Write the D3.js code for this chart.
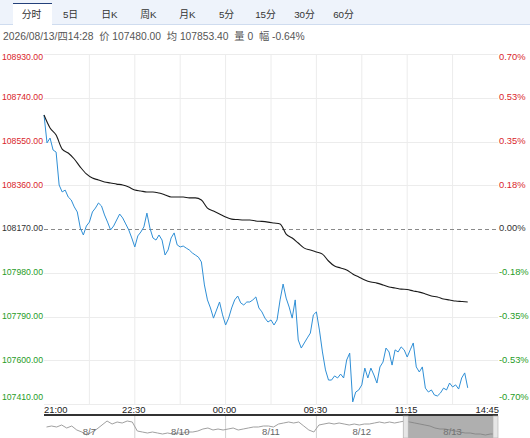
<!DOCTYPE html>
<html>
<head>
<meta charset="utf-8">
<script src="https://cdn.jsdelivr.net/npm/d3@7"></script>
<style>
  body { margin: 0; background: #fff; overflow: hidden; }
  svg { display: block; font-family: "Liberation Sans", Arial, "Noto Sans CJK SC", sans-serif; }
</style>
</head>
<body>
<div id="root"></div>
<script>
// toolbar + header
const tabs = ['分时', '5日', '日K', '周K', '月K', '5分', '15分', '30分', '60分']
const infoText = '2026/08/13/四14:28  价 107480.00  均 107853.40  量 0  幅 -0.64%'

// session axis (minutes from 21:00, breaks removed)
const timeTicks = [0, 90, 180, 270, 360, 450]
const timeLabels = ['21:00', '22:30', '00:00', '09:30', '11:15', '14:45']
const priceStep = 3   // minutes between price points
const avgStep = 6     // minutes between average points

const basePrice = 108170
const priceTicks = [108930, 108740, 108550, 108360, 108170, 107980, 107790, 107600, 107410]

const prices = [
  108665, 108544, 108565, 108513, 108504, 108361, 108331, 108339, 108309, 108296,
  108266, 108244, 108174, 108144, 108183, 108200, 108244, 108261, 108283, 108270,
  108231, 108200, 108166, 108183, 108209, 108235, 108218, 108192, 108166, 108131,
  108092, 108140, 108157, 108179, 108239, 108174, 108131, 108122, 108144, 108122,
  108057, 108079, 108131, 108153, 108101, 108092, 108096, 108087, 108079, 108066,
  108057, 108048, 108027, 107927, 107862, 107827, 107783, 107818, 107853, 107797,
  107753, 107783, 107827, 107862, 107879, 107849, 107840, 107853, 107853, 107862,
  107875, 107827, 107810, 107783, 107766, 107775, 107753, 107775, 107862, 107931,
  107870, 107831, 107783, 107862, 107688, 107653, 107675, 107697, 107718, 107797,
  107810, 107731, 107636, 107558, 107514, 107514, 107532, 107523, 107540, 107523,
  107601, 107631, 107419, 107462, 107471, 107493, 107566, 107523, 107566, 107536,
  107501, 107571, 107592, 107653, 107636, 107579, 107645, 107636, 107658, 107645,
  107614, 107645, 107675, 107571, 107549, 107571, 107479, 107462, 107471, 107449,
  107445, 107458, 107479, 107471, 107501, 107484, 107493, 107475, 107523, 107545,
  107480
]

const avgPrices = [
  108665, 108609, 108578, 108517, 108500, 108474, 108439, 108409, 108391, 108383,
  108374, 108370, 108365, 108361, 108352, 108339, 108335, 108331, 108331, 108326,
  108318, 108309, 108309, 108309, 108305, 108305, 108296, 108261, 108248, 108235,
  108222, 108213, 108211, 108209, 108209, 108205, 108203, 108200, 108196, 108192,
  108148, 108131, 108109, 108087, 108079, 108070, 108061, 108031, 108009, 108001,
  107992, 107975, 107962, 107949, 107940, 107935, 107927, 107918, 107914, 107909,
  107907, 107901, 107896, 107888, 107879, 107875, 107866, 107862, 107857, 107855,
  107853
]

// 5 day navigator, 18 points per day
const navDays = ['8/7', '8/10', '8/11', '8/12', '8/13']
const navValues = [
  108200, 108300, 108200, 108400, 108100, 108300, 107900, 107700, 107400, 107700, 108000, 108400, 108800, 108500, 108700, 108600, 108800, 108700,
  107800, 107700, 107600, 107700, 107600, 107500, 107600, 107500, 107600, 107600, 107700, 107700, 107800, 108000, 108100, 107900, 108000, 107900,
  108000, 108100, 107900, 108000, 108100, 108200, 108200, 108300, 108300, 108200, 108500, 108600, 108700, 108600, 108700, 108300, 107900, 107700,
  108400, 108500, 108600, 108500, 108600, 108500, 108400, 108500, 108400, 108500, 108500, 108600, 108700, 108600, 108700, 108600, 108700, 108800,
  108700, 108600, 108500, 108400, 108300, 108100, 108000, 108000, 107900, 107800, 107700, 107600, 107600, 107500, 107500, 107400, 107500, 107500
]
const navPerDay = 18

const width = 530
const height = 438
const plotLeft = 44
const plotRight = 498
const plotTop = 54
const plotBottom = 404

const svg = d3.select('#root').append('svg')
  .attr('width', width)
  .attr('height', height)

// ---- toolbar
svg.append('rect').attr('x', 0).attr('y', 0).attr('width', width).attr('height', 24).attr('fill', '#eef3fb')
svg.append('line').attr('x1', 0).attr('x2', width).attr('y1', 24.5).attr('y2', 24.5).attr('stroke', '#cfdcef')

const tabScale = d3.scaleBand().domain(tabs).range([12, 363])
svg.append('rect')
  .attr('x', tabScale(tabs[0]) + 1).attr('y', 3)
  .attr('width', tabScale.bandwidth()).attr('height', 22)
  .attr('fill', '#fff')
svg.append('line')
  .attr('x1', tabScale(tabs[0]) + 1).attr('x2', tabScale(tabs[0]) + 1 + tabScale.bandwidth())
  .attr('y1', 3.5).attr('y2', 3.5)
  .attr('stroke', '#23407a')

svg.append('g').selectAll('text')
  .data(tabs)
  .enter()
  .append('text')
  .attr('x', d => tabScale(d) + tabScale.bandwidth() / 2)
  .attr('y', 15)
  .attr('text-anchor', 'middle')
  .attr('dominant-baseline', 'middle')
  .attr('font-size', '9.8px')
  .attr('fill', '#333')
  .text(d => d)

svg.append('text')
  .attr('x', 3).attr('y', 37)
  .attr('dominant-baseline', 'middle')
  .attr('font-size', '10.3px')
  .attr('fill', '#555')
  .attr('xml:space', 'preserve')
  .style('white-space', 'pre')
  .text(infoText)

// ---- scales
const x = d3.scaleLinear().domain([0, 450]).range([plotLeft, plotRight])
const y = d3.scaleLinear().domain([priceTicks[priceTicks.length - 1], priceTicks[0]]).range([plotBottom, plotTop])

// grid
svg.append('g').selectAll('line')
  .data(d3.range(45, 450, 45))
  .enter()
  .append('line')
  .attr('x1', d => x(d)).attr('x2', d => x(d))
  .attr('y1', plotTop).attr('y2', plotBottom)
  .attr('stroke', '#ececec')

svg.append('g').selectAll('line')
  .data(priceTicks.filter(d => d !== basePrice))
  .enter()
  .append('line')
  .attr('x1', plotLeft).attr('x2', plotRight)
  .attr('y1', d => Math.round(y(d)) + 0.5).attr('y2', d => Math.round(y(d)) + 0.5)
  .attr('stroke', '#ececec')

svg.append('line')
  .attr('x1', plotLeft).attr('x2', plotRight)
  .attr('y1', Math.round(y(basePrice)) + 0.5).attr('y2', Math.round(y(basePrice)) + 0.5)
  .attr('stroke', '#8a8a8a')
  .attr('stroke-dasharray', '4,3')

const labelColor = d => d > basePrice ? '#d9262b' : d < basePrice ? '#1f9c1f' : '#333'
const labelY = d => Math.max(plotTop + 4, Math.min(plotBottom - 6, y(d)))

// left price labels, sized so the full number fits before the plot
svg.append('g').selectAll('text')
  .data(priceTicks)
  .enter()
  .append('text')
  .attr('x', 43)
  .attr('y', labelY)
  .attr('text-anchor', 'end')
  .attr('dominant-baseline', 'middle')
  .attr('font-size', '8.7px')
  .attr('fill', labelColor)
  .text(d => d.toFixed(2))

svg.append('g').selectAll('text')
  .data(priceTicks)
  .enter()
  .append('text')
  .attr('x', 499)
  .attr('y', labelY)
  .attr('dominant-baseline', 'middle')
  .attr('font-size', '9.4px')
  .attr('fill', labelColor)
  .text(d => ((d - basePrice) / basePrice * 100).toFixed(2) + '%')

// ---- lines
const priceLine = d3.line()
  .x((d, i) => x(i * priceStep))
  .y(d => y(d))

const avgLine = d3.line()
  .x((d, i) => x(i * avgStep))
  .y(d => y(d))
  .curve(d3.curveMonotoneX)

svg.append('path')
  .datum(prices)
  .attr('d', priceLine)
  .attr('fill', 'none')
  .attr('stroke', '#2f8fd6')
  .attr('stroke-width', 1)

svg.append('path')
  .datum(avgPrices)
  .attr('d', avgLine)
  .attr('fill', 'none')
  .attr('stroke', '#1a1a1a')
  .attr('stroke-width', 1.1)

// time axis labels
svg.append('g').selectAll('text')
  .data(timeTicks)
  .enter()
  .append('text')
  .attr('x', (d, i) => i === 0 ? x(d) : i === timeTicks.length - 1 ? x(d) + 1 : x(d) - 1)
  .attr('y', 411)
  .attr('text-anchor', (d, i) => i === 0 ? 'start' : i === timeTicks.length - 1 ? 'end' : 'middle')
  .attr('dominant-baseline', 'middle')
  .attr('font-size', '9.4px')
  .attr('fill', '#222')
  .text((d, i) => timeLabels[i])

// ---- navigator
const navTop = 416
const nx = d3.scaleLinear().domain([0, navValues.length]).range([plotLeft, plotRight])
const ny = d3.scaleLinear().domain([107300, 109000]).range([436, 419])

svg.append('line')
  .attr('x1', plotLeft).attr('x2', plotRight)
  .attr('y1', 415).attr('y2', 415)
  .attr('stroke', '#333')
  .attr('stroke-width', 2)

svg.append('g').selectAll('line')
  .data(navDays.slice(1))
  .enter()
  .append('line')
  .attr('x1', (d, i) => nx((i + 1) * navPerDay)).attr('x2', (d, i) => nx((i + 1) * navPerDay))
  .attr('y1', navTop).attr('y2', height)
  .attr('stroke', '#d0d0d0')

svg.append('path')
  .datum(navValues)
  .attr('d', d3.line().x((d, i) => nx(i + 0.5)).y(d => ny(d)))
  .attr('fill', 'none')
  .attr('stroke', '#a0a0a0')
  .attr('stroke-width', 1)

svg.append('g').selectAll('text')
  .data(navDays)
  .enter()
  .append('text')
  .attr('x', (d, i) => nx((i + 0.5) * navPerDay))
  .attr('y', 432)
  .attr('text-anchor', 'middle')
  .attr('dominant-baseline', 'middle')
  .attr('font-size', '9.5px')
  .attr('fill', '#666')
  .text(d => d)

const selStart = nx(4 * navPerDay) - 4
svg.append('rect')
  .attr('x', selStart).attr('y', navTop)
  .attr('width', plotRight - selStart).attr('height', height - navTop)
  .attr('fill', '#7a7a7a')
  .attr('fill-opacity', 0.6)

svg.append('g').selectAll('rect')
  .data([selStart, plotRight - 5])
  .enter()
  .append('rect')
  .attr('x', d => d).attr('y', navTop)
  .attr('width', 5).attr('height', height - navTop)
  .attr('fill', '#e6e6e6')
  .attr('stroke', '#b0b0b0')
  .attr('stroke-width', 0.6)
</script>
</body>
</html>
